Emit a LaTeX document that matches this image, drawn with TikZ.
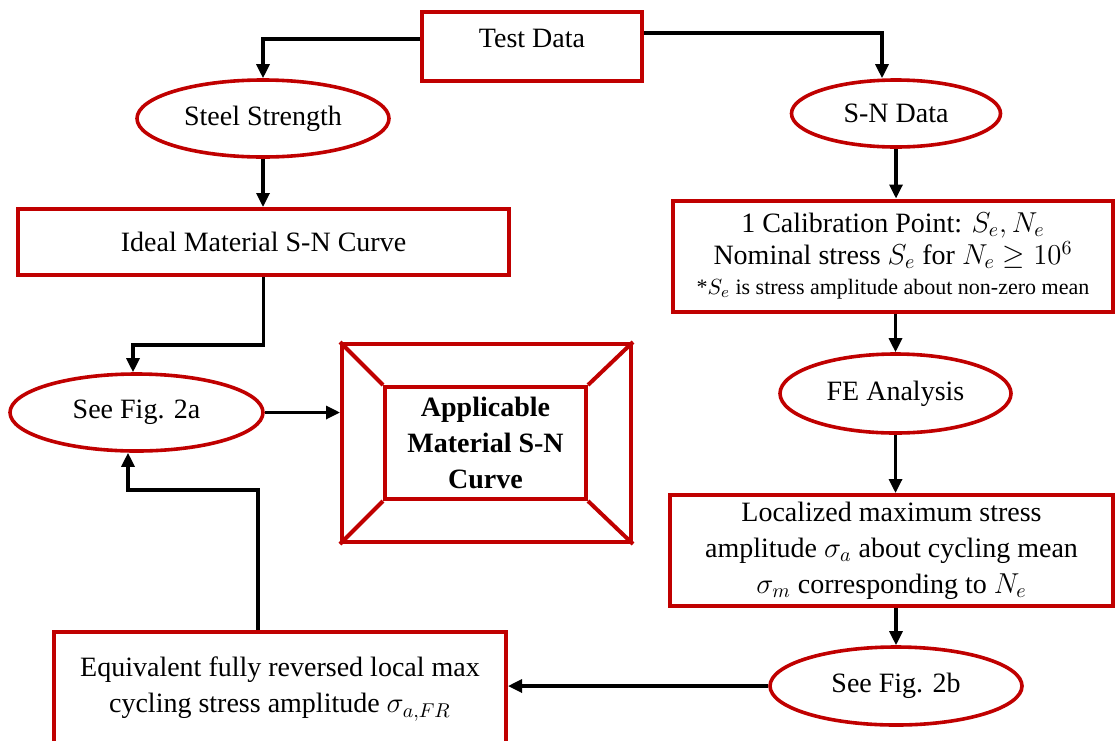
\documentclass[tikz,border=0pt]{standalone}
\usepackage{fontspec}
\setmainfont{Liberation Serif}
\usepackage{tikz}
\usetikzlibrary{arrows.meta,positioning,shapes.geometric}
\definecolor{boxred}{HTML}{C00000}
\newcommand{\mainfs}{\fontsize{14}{18}\selectfont}
\newcommand{\notefs}{\fontsize{11}{13}\selectfont}
\tikzset{
    every picture/.style={line join=miter},
    procbox/.style={draw=boxred,fill=white,line width=2pt,inner sep=2pt,
      align=center,font=\mainfs},
    dataoval/.style={ellipse,draw=boxred,fill=white,line width=1.8pt,inner sep=0pt,
      align=center,font=\mainfs},
    flowarrow/.style={-{Triangle[length=7pt,width=6.5pt]},draw=black,
      line width=1.6pt}
}
\begin{document}
\begin{tikzpicture}[x=0.5pt,y=-0.5pt]
  \useasboundingbox (0,0) rectangle (1118,740);
  % top row
  \node[procbox,minimum width=110pt,minimum height=34.5pt,text depth=7.8pt] (test) at (532,46.5) {Test Data};
  \node[dataoval,minimum width=126pt,minimum height=38.5pt] (steel) at (263,118.5) {Steel Strength};
  \node[dataoval,minimum width=104.5pt,minimum height=33.5pt] (sndata) at (896,113.5) {S-N Data};
  % left branch
  \node[procbox,minimum width=245.5pt,minimum height=33pt] (ideal) at (263.5,242) {Ideal Material S-N Curve};
  \node[dataoval,minimum width=126.5pt,minimum height=38.5pt] (fig2a) at (136.5,412.5) {See Fig. 2a};
  \node[procbox,minimum width=144.5pt,minimum height=99pt] (applout) at (486.5,443) {};
  \node[procbox,minimum width=100.5pt,minimum height=56pt,font=\mainfs\bfseries] (applin) at (485.5,443) {Applicable\\Material S-N\\Curve};
  \node[procbox,anchor=north,minimum width=226pt,minimum height=57pt] (equiv) at (280,630)
    {Equivalent fully reversed local max\\cycling stress amplitude $\sigma_{a,FR}$};
  % right branch
  \node[procbox,minimum width=220pt,minimum height=55.5pt] (calib) at (893,256)
    {1 Calibration Point: $S_e, N_e$\\[-2pt]Nominal stress $S_e$ for $N_e \geq 10^6$\\[-3pt]
     {\notefs *$S_e$ is stress amplitude about non-zero mean}};
  \node[dataoval,minimum width=115.5pt,minimum height=39.5pt] (fea) at (895.5,393.5) {FE Analysis};
  \node[procbox,minimum width=221.5pt,minimum height=55.5pt] (local) at (891.5,550.5)
    {Localized maximum stress\\amplitude $\sigma_a$ about cycling mean\\$\sigma_m$ corresponding to $N_e$};
  \node[dataoval,minimum width=126pt,minimum height=39pt] (fig2b) at (896,686) {See Fig. 2b};
  % frame corners
  \foreach \c in {north west,north east,south west,south east}
    \draw[boxred,line width=2pt] (applout.\c) -- (applin.\c);
  % connectors
  \draw[flowarrow] ([yshift=3.75pt]test.west) -| (steel.north);
  \draw[flowarrow] ([yshift=6.75pt]test.east) -| ([xshift=-7pt]sndata.north);
  \draw[flowarrow] (steel.south) -- (steel.south |- ideal.north);
  \draw[flowarrow] (ideal.south) -- ++(0,68) -| ([xshift=-1.75pt]fig2a.north);
  \draw[flowarrow] (fig2a.east) -- (fig2a.east -| applout.west);
  \draw[flowarrow] ([xshift=-11pt]equiv.north) -- ++(0,-140) -| ([xshift=-4.25pt]fig2a.south);
  \draw[flowarrow] (sndata.south) -- (sndata.south |- calib.north);
  \draw[flowarrow] (fea.north |- calib.south) -- (fea.north);
  \draw[flowarrow] (fea.south) -- (fea.south |- local.north);
  \draw[flowarrow] (fig2b.north |- local.south) -- (fig2b.north);
  \draw[flowarrow] (fig2b.west) -- (fig2b.west -| equiv.east);
\end{tikzpicture}
\end{document}
